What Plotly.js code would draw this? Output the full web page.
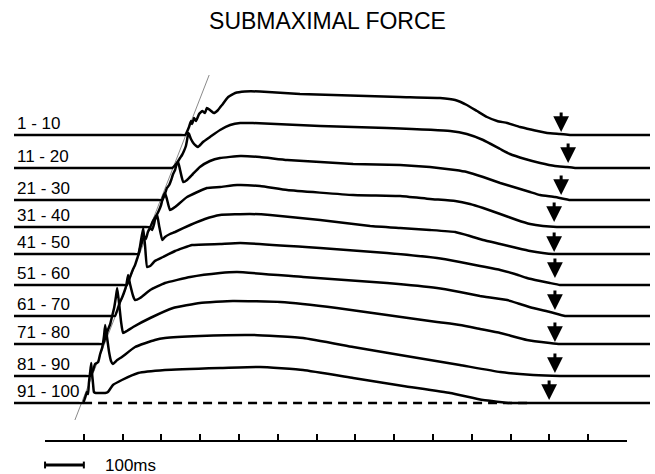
<!DOCTYPE html>
<html><head><meta charset="utf-8">
<script src="https://cdn.plot.ly/plotly-3.0.1.min.js"></script>
<style>html,body{margin:0;padding:0;background:#fff}#chart{width:655px;height:474px}</style>
</head><body><div id="chart"></div>
<script>
const TITLE = 'SUBMAXIMAL FORCE';
const labels = ['1 - 10','11 - 20','21 - 30','31 - 40','41 - 50','51 - 60','61 - 70','71 - 80','81 - 90','91 - 100'];
// vertical offset of each trace's baseline (a.u.)
const baselineOffsets = [305,272,240,213,186,155,124,96,64,37];

// time (ms) and force above baseline (a.u.) for each averaged trace
const T1 = [-80,346,361,371,376,379,384,389,397,405,412,417,425,435,446,456,472,490,515,554,657,786,915,1018,1057,1087,1113,1139,1165,1191,1224,1258,1294,1327,1353,1368,1559];
const F1 = [0,0,0,8,14,11,17,14,21,24,22,27,25,22,25,30,38,42,43.5,43.5,41,39.5,38,37,35,30,24,18,14,12,8,5,2,1,0,0,0];
const T2 = [-80,312,327,340,348,353,358,363,366,369,371,376,384,394,407,425,451,477,503,536,709,881,1044,1087,1129,1173,1198,1237,1276,1314,1345,1366,1381,1559];
const F2 = [0,0,0,5,10,13,17,22,28,35,34,29,24,21,26,31,38,43,45,45,42,40,37,34,28,19,14,9,5,2,1,0,0,0];
const T3 = [-80,287,302,309,314,320,325,330,335,340,343,348,356,366,381,399,425,451,503,554,624,794,915,992,1057,1087,1129,1173,1216,1250,1276,1314,1353,1368,1559];
const F3 = [0,0,0,6,12,15,20,26,30,37,38,30,18,20,26,33,39,42,44,43,40,36,35,33,30,28,23,17,12,8,5,3,0,0,0];
const T4 = [-80,256,271,278,283,289,294,299,304,309,314,322,335,366,417,451,495,554,624,794,915,992,1057,1095,1129,1173,1216,1250,1283,1319,1334,1559];
const F4 = [0,0,0,6,9,13,17,22,30,34,28,17,20,30,39,40,42,41,37,32,31,28,26,23,19,13,7,3,1,0,0,0];
const T5 = [-80,225,240,245,250,255,260,265,271,276,281,283,289,294,302,309,322,335,374,412,451,528,580,709,838,915,992,1057,1095,1129,1173,1216,1250,1283,1309,1324,1559];
const F5 = [0,0,0,6,12,18,15,22,26,24,30,34,39,28,14,17,20,22,29,35,39,40,39,34,28,26,24,22,18,14,10,6,3,1,0,0,0];
const T6 = [-80,196,211,219,227,232,237,242,247,253,258,263,271,283,304,335,379,451,503,709,881,1010,1069,1121,1173,1211,1242,1276,1301,1327,1342,1559];
const F6 = [0,0,0,8,16,20,26,32,44,57,38,18,19,24,28,34,40,41,42,37,32,27,23,19,15,11,7,4,2,0,0,0];
const T7 = [-80,165,180,188,193,198,204,209,214,219,227,232,245,271,309,374,451,495,665,881,1010,1069,1121,1191,1224,1258,1301,1340,1355,1559];
const F7 = [0,0,0,8,14,18,24,30,41,32,20,16,18,26,33,39,43,44,39,33,28,24,20,16,12,8,4,0,0,0];
const T8 = [-80,134,149,157,162,168,173,178,183,186,191,196,201,211,227,271,330,399,484,606,752,881,1010,1069,1121,1173,1242,1301,1327,1342,1559];
const F8 = [0,0,0,8,14,20,28,36,48,56,40,22,11,13,17,26,36,41,43,42,36,29,22,19,15,11,4,1,0,0,0];
const T9 = [-80,101,116,124,129,137,142,147,152,155,160,165,170,175,186,198,232,283,309,399,536,665,794,915,992,1069,1173,1258,1327,1342,1559];
const F9 = [0,0,0,6,12,14,22,28,40,51,38,24,15,12,16,19,29,36,38,40,41,38,29,21,16,11,4,1,0,0,0];
const T10 = [-80,83,98,103,108,111,113,116,119,121,124,126,131,155,162,175,198,240,309,451,554,665,794,923,1044,1129,1198,1213,1559];
const F10 = [0,0,0,5,11,9,20,30,40,30,18,11,10,10,11,18,23,30,33,35,36,33,25,17,10,3,0,0,0];

// relaxation end markers (arrows): time (ms) and height above baseline of the tip
const arrowTimes = [1330,1348,1330,1312,1312,1314,1314,1314,1314,1299];
const arrowHeights = [3,5,5,5,2,7,6,2,3,3];

// thin oblique reference line through the onsets (ms, absolute a.u.)
const rampT = [77, 423];
const rampF = [20, 365];
// dashed reference baseline under the last trace (ms)
const dashT = [98, 1250];

const axisTicks = [0,100,200,300,400,500,600,700,800,900,1000,1100,1200,1300,1400,1500];
const SCALE_MS = 100;
const SCALE_LABEL = '100ms';
const T_START = -80, T_END = 1559;

const TT = [T1,T2,T3,T4,T5,T6,T7,T8,T9,T10];
const FF = [F1,F2,F3,F4,F5,F6,F7,F8,F9,F10];
const FONT = 'Liberation Sans, Arial, Helvetica, sans-serif';

const traces = [];
traces.push({x: dashT, y: dashT.map(() => baselineOffsets[9]), mode: 'lines',
  line: {color: '#000', width: 2.5, dash: '9px,6px'}, hoverinfo: 'skip'});
traces.push({x: rampT, y: rampF, mode: 'lines', line: {color: '#8a8a8a', width: 1}, hoverinfo: 'skip'});
TT.forEach((t, i) => {
  traces.push({x: t, y: FF[i].map(v => v + baselineOffsets[i]), mode: 'lines',
    line: {color: '#000', width: 2.5, shape: 'spline', smoothing: 0.35}, hoverinfo: 'skip'});
});
traces.push({x: [axisTicks[0], axisTicks[axisTicks.length-1]], y: [0, 0], xaxis: 'x2', yaxis: 'y2',
  mode: 'markers', marker: {opacity: 0}, hoverinfo: 'skip'});

const span = T_END - T_START;
const toPaperX = t => (t - T_START) / span;

const annotations = [];
labels.forEach((lab, i) => {
  annotations.push({x: T_START, y: baselineOffsets[i], xref: 'x', yref: 'y', text: lab,
    showarrow: false, xanchor: 'left', yanchor: 'bottom', xshift: 1, yshift: 0,
    font: {family: FONT, size: 17, color: '#000'}});
});
arrowTimes.forEach((t, i) => {
  annotations.push({x: t, y: baselineOffsets[i] + arrowHeights[i], xref: 'x', yref: 'y', text: '',
    showarrow: true, ax: 0, ay: -21, arrowhead: 2, arrowwidth: 3, arrowsize: 1.05,
    arrowcolor: '#000', standoff: 0});
});
annotations.push({x: toPaperX(SCALE_MS), y: -0.066, xref: 'paper', yref: 'paper', text: SCALE_LABEL,
  showarrow: false, xanchor: 'left', yanchor: 'middle', xshift: 19,
  font: {family: FONT, size: 17, color: '#000'}});

const sbY = -0.0658;
const shapes = [
  {type: 'line', xref: 'paper', yref: 'paper', x0: toPaperX(0), x1: toPaperX(SCALE_MS), y0: sbY, y1: sbY,
   line: {color: '#000', width: 3}},
  {type: 'line', xref: 'paper', yref: 'paper', x0: toPaperX(0), x1: toPaperX(0), y0: sbY - 0.009, y1: sbY + 0.009,
   line: {color: '#000', width: 2}},
  {type: 'line', xref: 'paper', yref: 'paper', x0: toPaperX(SCALE_MS), x1: toPaperX(SCALE_MS), y0: sbY - 0.009, y1: sbY + 0.009,
   line: {color: '#000', width: 2}}
];

const layout = {
  width: 655, height: 474,
  margin: {l: 14, r: 5, t: 60, b: 34},
  paper_bgcolor: '#fff', plot_bgcolor: '#fff',
  showlegend: false,
  title: {text: TITLE, font: {family: FONT, size: 23, color: '#000'}, x: 0.5, xanchor: 'center', y: 0.956, yanchor: 'middle'},
  xaxis: {range: [T_START, T_END], visible: false, fixedrange: true},
  yaxis: {range: [0, 380], visible: false, fixedrange: true, domain: [0, 1]},
  xaxis2: {domain: [toPaperX(axisTicks[0]), toPaperX(axisTicks[axisTicks.length-1])],
    range: [axisTicks[0], axisTicks[axisTicks.length-1]], anchor: 'y2',
    showline: true, linecolor: '#000', linewidth: 2, ticks: 'inside', ticklen: 6, tickwidth: 2,
    tickcolor: '#000', tickmode: 'array', tickvals: axisTicks, showticklabels: false,
    showgrid: false, zeroline: false, fixedrange: true},
  yaxis2: {domain: [0, 0.02], anchor: 'x2', visible: false, range: [0, 1], fixedrange: true},
  annotations: annotations,
  shapes: shapes
};
Plotly.newPlot('chart', traces, layout, {displayModeBar: false, staticPlot: true});
</script></body></html>
